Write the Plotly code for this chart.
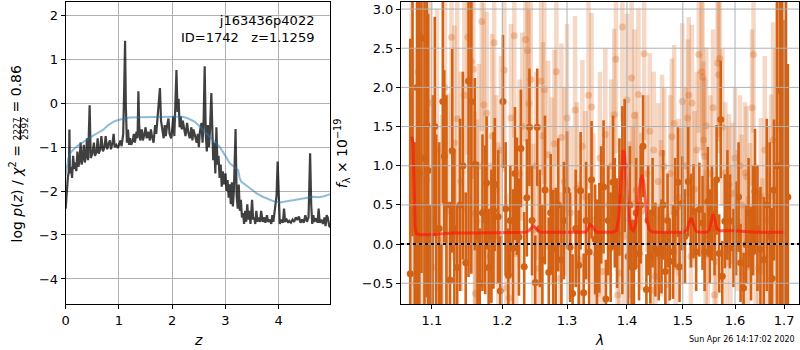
import plotly.graph_objects as go

# ---------------- left panel: log p(z) ----------------
pz_points = [
    (0.00, -2.40), (0.02, -1.90), (0.04, -1.70), (0.06, -1.55), (0.07, -0.60), (0.08, -1.60),
    (0.10, -1.45), (0.12, -1.70), (0.14, -1.20), (0.16, -1.50), (0.18, -1.35), (0.20, -1.55),
    (0.22, -1.10), (0.24, -1.45), (0.26, -1.30), (0.28, -0.90), (0.30, -1.40), (0.32, -1.25),
    (0.34, -0.95), (0.36, -1.35), (0.38, -1.20), (0.40, -0.80), (0.42, -1.30), (0.45, -0.05),
    (0.47, -1.25), (0.50, -1.15), (0.53, -0.90), (0.55, -1.20), (0.58, -1.10), (0.60, -0.80),
    (0.62, -1.15), (0.65, -1.05), (0.67, -0.75), (0.70, -1.10), (0.73, -1.00), (0.75, -0.75),
    (0.78, -1.05), (0.80, -0.95), (0.83, -0.85), (0.85, -1.05), (0.88, -0.90), (0.90, -0.70),
    (0.92, -1.00), (0.95, -0.95), (0.98, -1.02), (1.00, -0.95), (1.03, -0.85), (1.05, -0.98),
    (1.08, -0.70), (1.10, 0.40), (1.115, 1.42), (1.13, -0.10), (1.15, -0.90), (1.17, -0.60),
    (1.19, -0.95), (1.21, -0.80), (1.23, -0.95), (1.26, -0.85), (1.28, -0.70), (1.30, -0.90),
    (1.33, -0.65), (1.35, -0.80), (1.365, 0.27), (1.38, -0.50), (1.40, -0.85), (1.43, -0.60),
    (1.45, -0.85), (1.48, -0.70), (1.50, -0.55), (1.52, -0.80), (1.55, -0.65), (1.58, -0.85),
    (1.60, -0.60), (1.62, -0.75), (1.65, -0.90), (1.68, -0.50), (1.70, -0.70), (1.73, -0.25),
    (1.77, 0.34), (1.79, -0.40), (1.81, -0.60), (1.84, -0.80), (1.86, -0.50), (1.88, -0.75),
    (1.90, -0.55), (1.93, -0.35), (1.95, -0.70), (1.98, -0.80), (2.00, -0.60), (2.02, -0.30),
    (2.04, -0.75), (2.06, -0.10), (2.08, 0.75), (2.10, -0.20), (2.12, 0.10), (2.14, -0.55),
    (2.16, -0.30), (2.18, -0.60), (2.20, -0.40), (2.22, -0.55), (2.25, -0.75), (2.28, -0.45),
    (2.30, -0.65), (2.33, -0.80), (2.36, -0.55), (2.38, -0.85), (2.40, -0.60), (2.43, -0.75),
    (2.46, -0.90), (2.48, -0.70), (2.50, -1.00), (2.52, -0.65), (2.55, -0.45), (2.57, -0.90),
    (2.59, -0.40), (2.61, 0.84), (2.63, -0.70), (2.65, -1.10), (2.67, -0.50), (2.69, -1.00),
    (2.71, -0.60), (2.735, 0.23), (2.75, -0.80), (2.77, -1.30), (2.79, -0.90), (2.81, -1.60),
    (2.83, -0.55), (2.85, -1.40), (2.87, -1.20), (2.89, -1.70), (2.91, -1.40), (2.93, -1.90),
    (2.95, -1.55), (2.97, -1.85), (3.00, -1.60), (3.02, -2.00), (3.04, -1.75), (3.06, -2.15),
    (3.08, -1.85), (3.10, -2.30), (3.12, -1.80), (3.14, -2.35), (3.16, -1.95), (3.19, -0.59),
    (3.21, -2.10), (3.23, -2.40), (3.25, -1.85), (3.27, -2.45), (3.29, -2.20), (3.31, -2.60),
    (3.33, -2.50), (3.35, -2.75), (3.37, -2.45), (3.39, -2.70), (3.41, -2.30), (3.43, -2.65),
    (3.45, -2.45), (3.47, -2.75), (3.50, -2.20), (3.52, -2.65), (3.54, -2.60), (3.56, -2.75),
    (3.58, -2.45), (3.60, -2.70), (3.62, -2.60), (3.65, -2.70), (3.67, -2.45), (3.70, -2.70),
    (3.73, -2.60), (3.75, -2.72), (3.78, -2.55), (3.80, -2.70), (3.83, -2.65), (3.86, -2.75),
    (3.88, -2.55), (3.90, -2.70), (3.93, -2.40), (3.96, -2.10), (3.98, -1.33), (4.00, -2.20),
    (4.02, -2.75), (4.05, -2.65), (4.08, -2.72), (4.10, -2.40), (4.12, -2.70), (4.15, -2.65),
    (4.18, -2.72), (4.20, -2.68), (4.23, -2.72), (4.26, -2.65), (4.29, -2.70), (4.32, -2.60),
    (4.35, -2.66), (4.38, -2.58), (4.41, -2.72), (4.44, -2.65), (4.47, -2.72), (4.50, -2.55),
    (4.53, -2.70), (4.56, -2.60), (4.57, -2.10), (4.59, -1.14), (4.61, -2.30), (4.63, -2.75),
    (4.65, -2.55), (4.67, -2.70), (4.70, -2.62), (4.73, -2.72), (4.75, -2.40), (4.77, -2.72),
    (4.80, -2.65), (4.83, -2.75), (4.86, -2.60), (4.88, -2.80), (4.90, -2.55), (4.92, -2.60),
    (4.95, -2.80), (4.97, -2.82),
]
pz_z = [p[0] for p in pz_points]
pz_logp = [p[1] for p in pz_points]

prior_points = [
    (0.00, -1.65), (0.02, -1.50), (0.05, -1.25), (0.08, -1.14), (0.15, -1.05), (0.25, -0.95),
    (0.38, -0.84), (0.50, -0.75), (0.60, -0.68), (0.70, -0.61), (0.80, -0.50), (0.90, -0.42),
    (1.00, -0.38), (1.10, -0.35), (1.20, -0.33), (1.40, -0.32), (1.64, -0.31), (2.00, -0.31),
    (2.20, -0.31), (2.30, -0.35), (2.42, -0.42), (2.52, -0.53), (2.64, -0.69), (2.76, -0.84),
    (2.89, -0.99), (3.00, -1.20), (3.08, -1.37), (3.16, -1.45), (3.24, -1.53), (3.27, -1.72),
    (3.30, -1.79), (3.40, -1.88), (3.50, -1.97), (3.58, -2.05), (3.70, -2.13), (3.83, -2.20),
    (3.92, -2.24), (4.02, -2.26), (4.12, -2.24), (4.27, -2.20), (4.40, -2.17), (4.52, -2.15),
    (4.65, -2.13), (4.75, -2.14), (4.85, -2.12), (4.97, -2.07),
]
prior_z = [p[0] for p in prior_points]
prior_logp = [p[1] for p in prior_points]

# ---------------- right panel: spectrum ----------------
# (wavelength [um], flux, error)
dark_points = [
    (1.071, -0.38, 3.0), (1.074, 3.6, 3.5), (1.077, -1.2, 2.5), (1.080, 2.0, 3.0), (1.083, 0.9, 3.2),
    (1.086, 2.63, 3.0), (1.090, 1.10, 2.6), (1.093, 1.52, 2.2), (1.095, 0.94, 2.0), (1.098, -1.0, 1.5),
    (1.101, 0.3, 1.6), (1.104, 1.5, 1.4), (1.106, 0.20, 1.2), (1.110, 0.20, 1.1), (1.113, -0.9, 0.9),
    (1.115, 1.82, 1.3), (1.117, 1.12, 1.1), (1.120, 0.5, 1.4), (1.125, -0.46, 1.0), (1.128, 1.19, 1.3),
    (1.131, 0.2, 1.0), (1.135, -0.3, 0.8), (1.139, 0.5, 1.1), (1.143, 1.0, 1.2), (1.147, -0.24, 0.9),
    (1.151, 2.08, 2.5), (1.155, 1.82, 2.2), (1.160, 1.02, 1.1), (1.164, 0.1, 0.95), (1.167, -0.5, 0.7),
    (1.171, 0.40, 1.0), (1.175, 0.31, 0.95), (1.177, 0.78, 0.85), (1.180, -0.3, 0.75), (1.184, 0.1, 0.85),
    (1.187, 0.43, 1.0), (1.189, 0.76, 0.85), (1.194, 0.35, 0.85), (1.197, -0.6, 0.7), (1.201, 1.82, 0.85),
    (1.205, 0.45, 0.85), (1.209, -0.4, 0.6), (1.212, 0.3, 0.7), (1.216, -0.05, 0.75), (1.219, 0.9, 0.85),
    (1.222, 0.61, 0.75), (1.225, 0.09, 0.75), (1.228, 1.22, 0.75), (1.233, -0.29, 0.7), (1.237, 0.59, 0.75),
    (1.241, 1.49, 0.75), (1.245, 0.3, 0.7), (1.250, -0.49, 0.6), (1.253, 1.49, 0.75), (1.257, 0.2, 0.75),
    (1.261, -0.2, 0.7), (1.265, 0.69, 0.95), (1.271, -0.36, 0.7), (1.274, 0.4, 0.75), (1.278, -0.06, 0.75),
    (1.282, -0.03, 0.75), (1.286, 0.5, 0.85), (1.291, -0.2, 0.7), (1.295, 0.3, 0.75), (1.300, 0.69, 0.75),
    (1.305, -0.04, 0.7), (1.309, -0.63, 0.5), (1.314, 0.2, 0.75), (1.319, -0.27, 0.7), (1.322, 0.68, 0.75),
    (1.327, -0.62, 0.5), (1.331, 0.3, 0.75), (1.336, -0.10, 0.75), (1.340, 0.82, 0.75), (1.346, 0.06, 0.7),
    (1.349, -0.13, 0.7), (1.353, 0.08, 0.7), (1.356, 0.5, 0.75), (1.360, 0.73, 0.85), (1.364, -0.70, 0.5),
    (1.368, 0.3, 0.7), (1.372, -0.04, 0.7), (1.376, 0.79, 0.85), (1.379, 0.4, 0.7), (1.383, 0.14, 0.7),
    (1.387, 0.6, 0.75), (1.392, 0.56, 1.2), (1.396, 1.0, 0.85), (1.402, -0.16, 0.7), (1.405, 0.5, 0.75),
    (1.408, -0.29, 0.6), (1.412, -0.29, 0.6), (1.416, 0.4, 0.7), (1.421, -0.12, 0.6), (1.424, 0.5, 0.75),
    (1.428, 1.25, 0.65), (1.434, -0.58, 0.45), (1.437, 0.3, 0.7), (1.441, -0.16, 0.6), (1.445, 0.4, 0.7),
    (1.450, -0.07, 0.6), (1.456, -0.12, 0.6), (1.461, -0.03, 0.6), (1.464, 0.5, 0.7), (1.468, -0.35, 0.5),
    (1.472, 0.3, 0.6), (1.476, -0.22, 0.5), (1.482, -0.10, 0.6), (1.486, 0.4, 0.7), (1.491, 0.79, 0.7),
    (1.494, -0.29, 0.45), (1.499, 0.52, 0.6), (1.504, 0.1, 0.6), (1.510, 0.80, 0.7), (1.515, 0.3, 0.6),
    (1.520, 0.42, 0.6), (1.525, -0.10, 0.5), (1.531, 0.44, 0.6), (1.537, 0.27, 0.6), (1.541, -0.10, 0.5),
    (1.547, 0.54, 0.7), (1.551, 0.1, 0.6), (1.555, 0.39, 0.6), (1.560, 0.2, 0.6), (1.564, 0.82, 0.7),
    (1.569, -0.12, 0.5), (1.572, 1.59, 0.75), (1.575, -0.41, 0.45), (1.580, 0.29, 0.6), (1.585, 0.5, 0.7),
    (1.590, 0.29, 0.6), (1.597, -0.05, 0.5), (1.602, 0.20, 0.6), (1.607, 0.6, 0.7), (1.611, -0.24, 0.5),
    (1.617, -0.56, 0.45), (1.622, -0.01, 0.5), (1.627, 0.4, 0.7), (1.632, -0.12, 0.6), (1.636, 0.3, 0.7),
    (1.640, 0.67, 0.8), (1.645, 0.2, 0.8), (1.651, -0.07, 0.8), (1.658, -0.20, 0.8), (1.664, 0.5, 1.1),
    (1.670, 0.1, 1.2), (1.675, -0.44, 0.9), (1.679, 0.69, 0.9), (1.685, 1.0, 2.5), (1.691, 1.96, 3.0),
    (1.696, 0.5, 3.5), (1.700, -0.14, 3.0), (1.704, 1.0, 2.5), (1.708, 0.60, 1.7),
]
dark_wave = [p[0] for p in dark_points]
dark_flux = [p[1] for p in dark_points]
dark_err = [p[2] for p in dark_points]

light_points = [
    (1.073, 1.0, 3.5), (1.078, -0.5, 3.0), (1.082, 2.2, 3.0), (1.087, 0.5, 2.5), (1.093, 0.82, 2.2),
    (1.097, 1.8, 2.0), (1.102, -0.3, 1.8), (1.107, 1.2, 1.8), (1.114, 0.05, 1.6), (1.118, 2.0, 1.7),
    (1.122, 0.42, 1.5), (1.127, 2.64, 1.5), (1.131, 1.29, 1.5), (1.135, 1.60, 1.5), (1.140, 0.8, 1.4),
    (1.145, 1.9, 1.5), (1.150, 2.64, 1.5), (1.155, 2.33, 1.5), (1.158, 2.23, 1.4), (1.160, 0.39, 1.3),
    (1.161, -0.63, 1.2), (1.163, 0.29, 1.3), (1.166, 1.0, 1.3), (1.170, 2.84, 1.4), (1.173, 1.78, 1.3),
    (1.177, 1.67, 1.3), (1.182, -0.16, 1.2), (1.185, 1.38, 1.3), (1.188, 2.57, 1.4), (1.191, 0.7, 1.2),
    (1.194, 0.10, 1.2), (1.198, 1.2, 1.2), (1.203, 2.22, 1.3), (1.206, -0.56, 1.2), (1.210, -0.69, 1.0),
    (1.213, 1.61, 1.2), (1.218, 2.66, 1.3), (1.221, -0.12, 1.1), (1.226, 0.9, 1.2), (1.230, 1.5, 1.2),
    (1.235, 2.61, 1.3), (1.238, 2.47, 1.2), (1.240, 1.79, 1.2), (1.243, 2.10, 1.2), (1.247, 0.18, 1.1),
    (1.251, 1.0, 1.2), (1.256, -0.31, 1.1), (1.259, 2.08, 1.2), (1.262, 1.38, 1.2), (1.264, 1.97, 1.2),
    (1.270, 1.14, 1.2), (1.276, 0.67, 1.2), (1.280, 1.28, 1.2), (1.283, 2.20, 1.2), (1.289, -0.44, 1.1),
    (1.291, 1.36, 1.2), (1.296, 0.8, 1.2), (1.300, 1.61, 1.2), (1.306, 0.4, 1.1), (1.313, 1.71, 1.2),
    (1.316, 0.71, 1.1), (1.320, -0.2, 1.0), (1.325, 1.25, 1.1), (1.330, 0.6, 1.1), (1.335, 1.9, 1.2),
    (1.340, 1.75, 1.2), (1.343, 0.31, 1.1), (1.350, -0.63, 1.0), (1.354, 1.1, 1.1), (1.358, -0.35, 1.0),
    (1.363, 1.4, 1.1), (1.368, 0.5, 1.0), (1.373, 1.0, 1.1), (1.378, 1.65, 1.1), (1.381, 2.36, 1.2),
    (1.384, -0.65, 1.0), (1.387, -0.37, 1.0), (1.392, 2.77, 1.2), (1.395, 0.10, 1.0), (1.400, 1.84, 1.1),
    (1.404, 0.31, 1.0), (1.408, 2.12, 1.1), (1.410, 0.51, 1.0), (1.413, 1.64, 1.1), (1.416, 0.69, 1.0),
    (1.420, 1.91, 1.1), (1.425, 0.42, 1.0), (1.430, 2.43, 1.1), (1.435, 0.9, 1.0), (1.440, 1.44, 1.0),
    (1.444, -0.59, 0.9), (1.447, 1.20, 1.0), (1.450, -0.41, 0.9), (1.455, 0.8, 1.0), (1.460, 0.33, 1.0),
    (1.462, 1.16, 1.0), (1.466, 0.99, 1.0), (1.472, -0.52, 0.9), (1.477, 0.90, 1.0), (1.480, 1.37, 1.0),
    (1.484, 1.54, 1.0), (1.487, -0.29, 0.9), (1.492, 0.6, 1.0), (1.497, 0.48, 1.0), (1.499, 1.82, 1.0),
    (1.505, 1.0, 1.0), (1.509, 1.61, 1.0), (1.511, 1.90, 1.0), (1.515, -0.16, 0.9), (1.517, 1.80, 1.0),
    (1.522, 0.7, 1.0), (1.526, 1.2, 1.0), (1.530, 2.42, 1.0), (1.535, 2.20, 1.0), (1.537, 2.13, 1.0),
    (1.539, 1.33, 1.0), (1.541, 1.12, 1.0), (1.543, 0.05, 0.9), (1.544, 1.51, 1.0), (1.547, -0.14, 0.9),
    (1.552, 0.9, 1.0), (1.557, 1.74, 1.0), (1.560, -0.65, 0.9), (1.563, -0.22, 0.9), (1.566, 2.31, 1.0),
    (1.568, 2.16, 1.0), (1.570, 2.37, 1.0), (1.575, 1.49, 1.0), (1.581, 0.91, 0.9), (1.583, -0.12, 0.9),
    (1.586, 0.61, 0.9), (1.588, 0.76, 0.9), (1.591, 0.10, 0.9), (1.595, 0.65, 0.9), (1.600, 1.1, 0.9),
    (1.605, 0.3, 0.9), (1.610, 1.0, 0.9), (1.613, 0.50, 0.9), (1.617, -0.41, 0.9), (1.620, 0.91, 0.9),
    (1.623, 0.86, 0.9), (1.626, -0.29, 0.9), (1.630, 0.39, 0.9), (1.634, 1.74, 1.0), (1.637, 2.42, 1.0),
    (1.641, 0.03, 1.0), (1.647, -0.31, 1.0), (1.652, 0.61, 1.0), (1.655, -0.16, 1.0), (1.660, 1.2, 1.2),
    (1.666, 0.3, 1.2), (1.673, 0.61, 1.3), (1.677, 1.33, 1.5), (1.682, 0.5, 2.0), (1.688, 1.5, 2.5),
]
light_wave = [p[0] for p in light_points]
light_flux = [p[1] for p in light_points]
light_err = [p[2] for p in light_points]

model_wave = [1.0730, 1.0745, 1.0760, 1.0775, 1.0790, 1.0850, 1.0950, 1.1100, 1.1300, 1.1600,
              1.2000, 1.2350, 1.2400, 1.2440, 1.2470, 1.2500, 1.2540, 1.2580, 1.2650, 1.3000,
              1.3300, 1.3340, 1.3380, 1.3420, 1.3460, 1.3500, 1.3600, 1.3750, 1.3820, 1.3860,
              1.3900, 1.3930, 1.3960, 1.3990, 1.4030, 1.4070, 1.4110, 1.4150, 1.4190, 1.4230,
              1.4260, 1.4290, 1.4320, 1.4350, 1.4390, 1.4430, 1.4480, 1.4600, 1.5000, 1.5080,
              1.5120, 1.5160, 1.5200, 1.5240, 1.5300, 1.5450, 1.5500, 1.5540, 1.5570, 1.5600,
              1.5640, 1.5700, 1.5800, 1.6000, 1.6200, 1.6400, 1.6700, 1.7020]
model_flux = [1.37, 1.30, 0.80, 0.20, 0.13, 0.12, 0.12, 0.13, 0.14, 0.14,
              0.15, 0.15, 0.17, 0.21, 0.23, 0.21, 0.17, 0.15, 0.15, 0.15,
              0.15, 0.19, 0.25, 0.22, 0.17, 0.15, 0.15, 0.15, 0.17, 0.35,
              0.85, 1.20, 1.15, 0.75, 0.35, 0.20, 0.17, 0.25, 0.50, 0.80,
              0.88, 0.80, 0.55, 0.30, 0.18, 0.16, 0.15, 0.15, 0.15, 0.18,
              0.28, 0.33, 0.26, 0.17, 0.15, 0.15, 0.18, 0.30, 0.38, 0.32,
              0.20, 0.17, 0.17, 0.17, 0.16, 0.15, 0.15, 0.15]

# tick labels
z_ticks = [0, 1, 2, 3, 4]
logp_ticks = [-4, -3, -2, -1, 0, 1, 2]
logp_ticktext = ["\u22124", "\u22123", "\u22122", "\u22121", "0", "1", "2"]
wave_ticks = [1.1, 1.2, 1.3, 1.4, 1.5, 1.6, 1.7]
wave_ticktext = ["1.1", "1.2", "1.3", "1.4", "1.5", "1.6", "1.7"]
flux_ticks = [-0.5, 0.0, 0.5, 1.0, 1.5, 2.0, 2.5, 3.0]
flux_ticktext = ["\u22120.5", "0.0", "0.5", "1.0", "1.5", "2.0", "2.5", "3.0"]

ORANGE = "rgb(212,98,20)"
ORANGE_LIGHT = "rgba(214,100,22,0.25)"
ORANGE_LIGHT_MK = "rgba(214,100,22,0.30)"
GRID = "#b0b0b0"
W, H = 800, 350

fig = go.Figure()

fig.add_trace(go.Scatter(x=pz_z, y=pz_logp, mode="lines",
                         line=dict(color="rgba(0,0,0,0.75)", width=2.2),
                         xaxis="x", yaxis="y", hoverinfo="skip"))
fig.add_trace(go.Scatter(x=prior_z, y=prior_logp, mode="lines",
                         line=dict(color="rgba(31,119,180,0.5)", width=2),
                         xaxis="x", yaxis="y", hoverinfo="skip"))

fig.add_trace(go.Scatter(x=light_wave, y=light_flux, mode="markers",
                         marker=dict(size=7, color=ORANGE_LIGHT_MK, line=dict(width=0)),
                         error_y=dict(type="data", array=light_err, visible=True,
                                      thickness=4.5, width=0, color=ORANGE_LIGHT),
                         xaxis="x2", yaxis="y2", hoverinfo="skip"))
fig.add_trace(go.Scatter(x=dark_wave, y=dark_flux, mode="markers",
                         marker=dict(size=7, color=ORANGE, line=dict(width=0)),
                         error_y=dict(type="data", array=dark_err, visible=True,
                                      thickness=2.6, width=0, color=ORANGE),
                         xaxis="x2", yaxis="y2", hoverinfo="skip"))
fig.add_trace(go.Scatter(x=model_wave, y=model_flux, mode="lines",
                         line=dict(color="rgba(255,20,10,0.65)", width=3),
                         xaxis="x2", yaxis="y2", hoverinfo="skip"))

ydom = [1 - 304 / H, 1 - 2 / H]
common = dict(ticks="outside", ticklen=4, tickcolor="black", tickwidth=1,
              showline=True, linecolor="black", linewidth=1, mirror=True,
              zeroline=False, tickfont=dict(size=13, color="black"))

fig.update_layout(
    width=W, height=H, margin=dict(l=0, r=0, t=0, b=0),
    paper_bgcolor="white", plot_bgcolor="white", showlegend=False,
    font=dict(family="DejaVu Sans", size=13, color="black"),
    xaxis=dict(domain=[62 / W, 328 / W], range=[0, 4.97], tickvals=z_ticks,
               showgrid=True, gridcolor=GRID, gridwidth=1, anchor="y", **common),
    yaxis=dict(domain=ydom, range=[-4.57, 2.3], tickvals=logp_ticks, ticktext=logp_ticktext,
               showgrid=True, gridcolor=GRID, gridwidth=1, anchor="x", **common),
    xaxis2=dict(domain=[399 / W, 799 / W], type="log", range=[0.02483, 0.23846],
                tickvals=wave_ticks, ticktext=wave_ticktext, showgrid=False,
                anchor="y2", **common),
    yaxis2=dict(domain=ydom, range=[-0.765, 3.09], tickvals=flux_ticks, ticktext=flux_ticktext,
                showgrid=False, anchor="x2", **common),
)

shapes = []
for v in wave_ticks:
    shapes.append(dict(type="line", xref="x2", yref="y2 domain", x0=v, x1=v, y0=0, y1=1,
                       line=dict(color=GRID, width=1), layer="above"))
for v in flux_ticks:
    shapes.append(dict(type="line", xref="x2 domain", yref="y2", x0=0, x1=1, y0=v, y1=v,
                       line=dict(color=GRID, width=1), layer="above"))
shapes.append(dict(type="line", xref="x2 domain", yref="y2", x0=0, x1=1, y0=0, y1=0,
                   line=dict(color="black", width=2, dash="dot"), layer="above"))
# fraction bar of the y label
shapes.append(dict(type="line", xref="paper", yref="paper", x0=16.5 / W, x1=16.5 / W,
                   y0=1 - 117 / H, y1=1 - 140 / H, line=dict(color="black", width=1)))
fig.update_layout(shapes=shapes)

NB = "\u00a0"
ann = [
    dict(text="j163436p4022<br>ID=1742" + NB * 3 + "z=1.1259", x=314 / W, y=1 - 11 / H,
         xanchor="right", yanchor="top", align="right", font=dict(size=13)),
    dict(text="<i>z</i>", x=195 / W, y=1 - 340 / H, xanchor="center", yanchor="middle",
         font=dict(size=14)),
    dict(text="<i>λ</i>", x=598 / W, y=1 - 340 / H, xanchor="center", yanchor="middle",
         font=dict(size=14)),
    dict(text="<i>f</i><sub>λ</sub> × 10<sup>−19</sup>", x=340 / W, y=1 - 153 / H,
         xanchor="center", yanchor="middle", textangle=-90, font=dict(size=14)),
    dict(text="log <i>p</i>(<i>z</i>) / <i>χ</i><sup>2</sup> =", x=12 / W, y=1 - 143 / H,
         xanchor="center", yanchor="top", textangle=-90, font=dict(size=14)),
    dict(text="2227", x=13 / W, y=1 - 128.5 / H, xanchor="center", yanchor="middle",
         textangle=-90, font=dict(size=9)),
    dict(text="2592", x=20.5 / W, y=1 - 128.5 / H, xanchor="center", yanchor="middle",
         textangle=-90, font=dict(size=9)),
    dict(text="= 0.86", x=12 / W, y=1 - 114 / H, xanchor="center", yanchor="bottom",
         textangle=-90, font=dict(size=14)),
    dict(text="Sun Apr 26 14:17:02 2020", x=742 / W, y=1 - 339 / H, xanchor="center",
         yanchor="middle", font=dict(size=8)),
]
for a in ann:
    a.update(xref="paper", yref="paper", showarrow=False)
fig.update_layout(annotations=ann)

fig.write_html("out.html", config={"displayModeBar": False},
               post_script="document.body.style.margin='0px';document.body.style.overflow='hidden';")
